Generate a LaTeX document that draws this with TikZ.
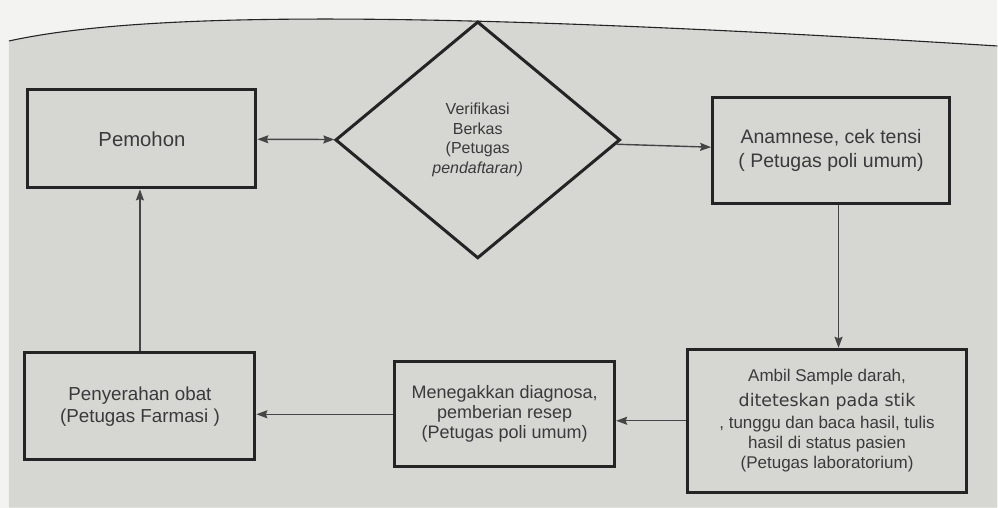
\documentclass[tikz,border=0pt]{standalone}
\usepackage{fontspec}
\setmainfont{Liberation Sans}
\newfontfamily\lebar{DejaVu Sans}
\usetikzlibrary{shapes.geometric,arrows.meta}
\definecolor{kertas}{RGB}{214,214,211}
\definecolor{tinta}{RGB}{36,36,36}
\definecolor{huruf}{RGB}{58,58,58}
\tikzset{
  kotak/.style={draw=tinta,line width=3pt,align=center,inner sep=2pt,text=huruf},
  panah/.style={draw=tinta!85,line width=1.4pt,-{Stealth[length=11pt,width=8pt,inset=1.5pt]}},
}
\begin{document}
\begin{tikzpicture}[x=1pt,y=-1pt,font=\fontsize{18}{20}\selectfont]
\fill[white!70!kertas] (0,0) rectangle (998,508);
\fill[kertas] (9,41) .. controls (150,10) and (450,12) .. (998,46) -- (998,508) -- (9,508) -- cycle;
% garis tepi tabel
\draw[tinta,line width=1.1pt] (9,41) .. controls (150,10) and (450,12) .. (998,46);
%
\node[kotak,minimum width=228pt,minimum height=98pt,font=\fontsize{20.3}{24}\selectfont] (pemohon) at (142,139) {Pemohon};
\node[kotak,diamond,minimum width=285pt,minimum height=237pt,inner sep=0pt,
  font=\fontsize{16}{19.5}\selectfont] (verifikasi) at (478,140)
  {Verifikasi\\Berkas\\(Petugas\\\textit{pendaftaran)}};
\node[kotak,minimum width=237pt,minimum height=106pt,font=\fontsize{19.5}{24}\selectfont] (anamnese) at (831.5,151)
  {Anamnese, cek tensi\\( Petugas poli umum)};
\node[kotak,minimum width=279pt,minimum height=143pt,font=\fontsize{17}{20}\selectfont] (ambil) at (827.5,421)
  {Ambil Sample darah,\\[5pt]{\lebar\fontsize{17.4}{20}\selectfont diteteskan pada stik}\\[2pt], tunggu dan baca hasil, tulis\\hasil di status pasien\\(Petugas laboratorium)};
\node[kotak,minimum width=220pt,minimum height=105pt] (menegakkan) at (505,414.5)
  {Menegakkan diagnosa,\\pemberian resep\\(Petugas poli umum)};
\node[kotak,minimum width=230pt,minimum height=107pt,font=\fontsize{18.8}{22}\selectfont] (penyerahan) at (140,406.5)
  {Penyerahan obat\\(Petugas Farmasi )};
%
% alur
\draw[panah,{Stealth[length=11pt,width=8pt,inset=1.5pt]}-{Stealth[length=11pt,width=8pt,inset=1.5pt]}] (pemohon) -- (verifikasi);
\draw[panah] (verifikasi) -- (anamnese);
\draw[panah] ([xshift=7.5pt]anamnese.south) -- ([xshift=7.5pt]anamnese.south |- ambil.north);
\draw[panah] (ambil.west) -- (ambil.west -| menegakkan.east);
\draw[panah] (menegakkan.west) -- (menegakkan.west -| penyerahan.east);
\draw[panah] (penyerahan.north) -- (penyerahan.north |- pemohon.south);
\end{tikzpicture}
\end{document}
